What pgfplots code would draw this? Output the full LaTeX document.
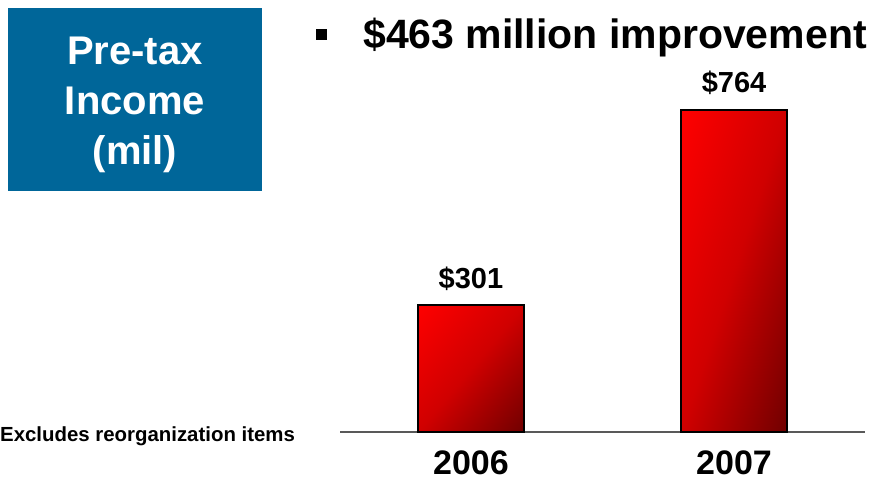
\documentclass[border=0pt]{standalone}
\usepackage{pgfplots}
\pgfplotsset{compat=1.18}
\usepackage{fontspec}
\setmainfont{Liberation Sans}
\definecolor{boxblue}{RGB}{0,102,153}
\begin{document}
\begin{tikzpicture}[x=1pt,y=1pt]
\path[use as bounding box] (0,0) rectangle (873,477);
\fill[boxblue] (8,286) rectangle (262,469);
\node[anchor=base,text=white,font=\fontsize{40}{48}\selectfont\bfseries,inner sep=0pt] at (135,412) {Pre-tax};
\node[anchor=base,text=white,font=\fontsize{40}{48}\selectfont\bfseries,inner sep=0pt] at (135,362) {Income};
\node[anchor=base,text=white,font=\fontsize{40}{48}\selectfont\bfseries,inner sep=0pt] at (135,312) {(mil)};
\fill[black] (316,437) rectangle (327,448);
\node[anchor=base west,font=\fontsize{41}{48}\selectfont\bfseries,inner sep=0pt] at (363,428) {\$463 million improvement};
\node[anchor=base west,font=\fontsize{20.4}{24}\selectfont\bfseries,inner sep=0pt] at (0,36) {Excludes reorganization items};
\begin{axis}[at={(340pt,45pt)}, anchor=south west, scale only axis,
  width=525pt, height=337.2pt,
  xmin=-0.498, xmax=1.498, ymin=0, ymax=800,
  axis x line=bottom, axis y line=none,
  axis line style={-, draw=black!65, line width=1.5pt},
  xtick={0,1}, xticklabels={2006,2007}, major tick length=0pt, ytick=\empty,
  xticklabel style={font=\fontsize{34}{40}\selectfont\bfseries, anchor=base, yshift=-42pt, inner sep=0pt},
  /pgf/number format/assume math mode=true,
  colormap={barred}{rgb255=(112,0,0) rgb255=(208,0,0) rgb255=(255,0,0)},
  point meta min=0, point meta max=1,
  clip=false]
% gradient fill of the bars: corners of each bar, meta = shade (1 bright, 0 dark)
\addplot[patch, patch type=rectangle, shader=interp, point meta=explicit]
  table[meta=c] {
x y c
-0.2015 0 0.5
0.2015 0 0
0.2015 301 0.5
-0.2015 301 1
0.7985 0 0.5
1.2015 0 0
1.2015 764 0.5
0.7985 764 1
};
% bar outlines and value labels
\addplot[ybar, bar width=106pt, draw=black, line width=1.5pt, fill=none,
  nodes near coords={\$\pgfmathprintnumber{\pgfplotspointmeta}},
  point meta=y,
  nodes near coords style={font=\fontsize{29}{34}\selectfont\bfseries, anchor=base, yshift=17pt, inner sep=0pt, text=black}]
  coordinates {(0,301) (1,764)};
\end{axis}
\end{tikzpicture}
\end{document}
